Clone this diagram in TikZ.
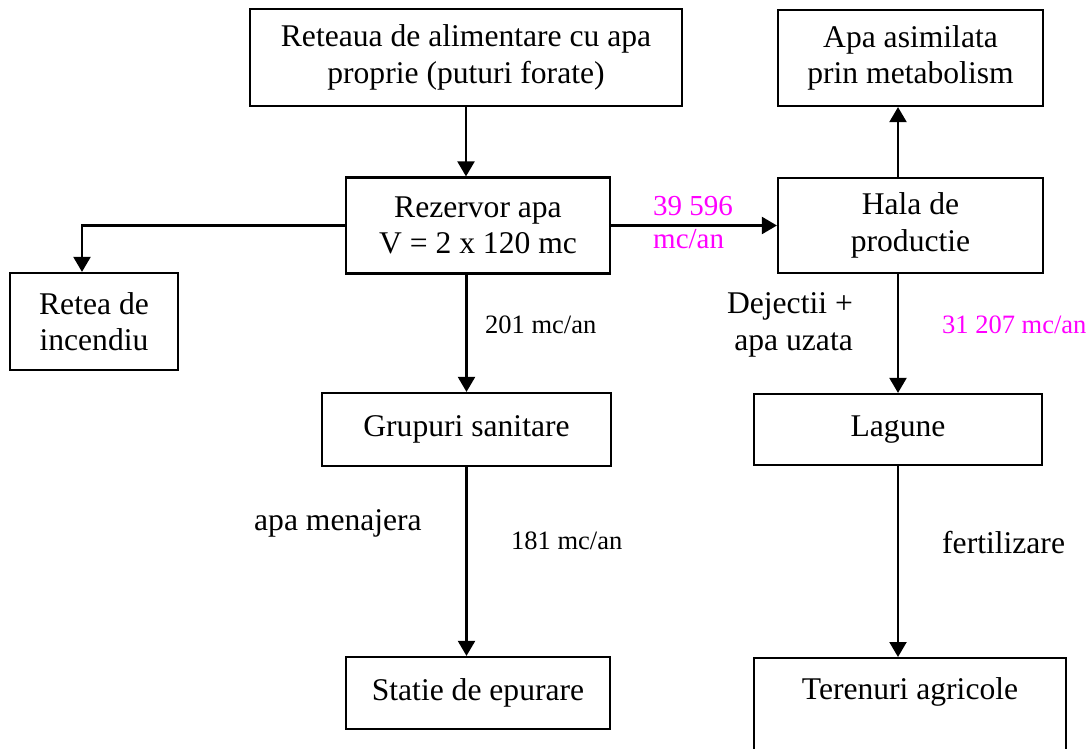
\documentclass[tikz,border=0pt]{standalone}
\usepackage{fontspec}
\setmainfont{Liberation Serif}
\usetikzlibrary{arrows.meta}
\definecolor{mag}{RGB}{255,0,255}
\begin{document}
\begin{tikzpicture}[x=1pt,y=-1pt,
  box/.style={draw, line width=2.2pt, align=center, inner sep=0pt,
    font=\fontsize{31.6}{36.5}\selectfont},
  arr/.style={line width=2.2pt, -{Triangle[length=15pt,width=17pt]}},
  lab/.style={inner sep=0pt, anchor=base west, font=\fontsize{31.6}{36.5}\selectfont},
  sml/.style={inner sep=0pt, anchor=base west, font=\fontsize{26.5}{30}\selectfont},
  mid/.style={inner sep=0pt, anchor=base west, font=\fontsize{29}{33}\selectfont}
]
\useasboundingbox (0,0) rectangle (1089,749);
\fill[white] (0,0) rectangle (1089,749);

\node[box, minimum width=432pt, minimum height=97pt] (b1) at (466,57.5) {Reteaua de alimentare cu apa\\proprie (puturi forate)};
\node[box, minimum width=265pt, minimum height=96pt] (b2) at (910.5,58) {Apa asimilata\\prin metabolism};
\node[box, minimum width=264pt, minimum height=96pt] (b3) at (478,225.5) {Rezervor apa\\V = 2 x 120 mc};
\node[box, minimum width=265pt, minimum height=95pt] (b4) at (910.5,225.5) {Hala de\\productie};
\node[box, minimum width=168pt, minimum height=97pt] (b5) at (94,321.5) {Retea de\\incendiu};
\node[box, minimum width=289pt, minimum height=73pt] (b6) at (466.5,429.5) {Grupuri sanitare};
\node[box, minimum width=288pt, minimum height=71pt] (b7) at (898,429.5) {Lagune};
\node[box, minimum width=264pt, minimum height=72pt] (b8) at (478,693) {Statie de epurare};
\node[box, minimum width=312pt, text height=41pt, text depth=70pt, anchor=north] (b9) at (910,657) {Terenuri agricole};

\coordinate (k5) at (82,0);

\draw[arr] (b1.south) -- (b1.south |- b3.north);
\draw[arr] (b3.east) -- (b4.west);
\draw[arr] (b3.west) -| (k5 |- b5.north);
\draw[arr] (b3.south -| b6.north) -- (b6.north);
\draw[arr] (b4.south -| b7.north) -- (b7.north);
\draw[arr] (b4.north -| b7.north) -- (b7.north |- b2.south);
\draw[arr] (b6.south) -- (b6.south |- b8.north);
\draw[arr] (b7.south) -- (b7.south |- b9.north);

\node[mid, text=mag] (l1) at (653,215) {39 596};
\node[mid, text=mag] (l2) at (653,248) {mc/an};
\node[sml] (l3) at (485,333) {201 mc/an};
\node[lab, anchor=base east] (l4) at (853,313) {Dejectii +};
\node[lab, anchor=base east] (l5) at (853,350) {apa uzata};
\node[sml, text=mag] (l6) at (942,333) {31 207 mc/an};
\node[lab] (l7) at (254,530) {apa menajera};
\node[sml] (l8) at (511,549) {181 mc/an};
\node[lab] (l9) at (942,553) {fertilizare};
\end{tikzpicture}
\end{document}
